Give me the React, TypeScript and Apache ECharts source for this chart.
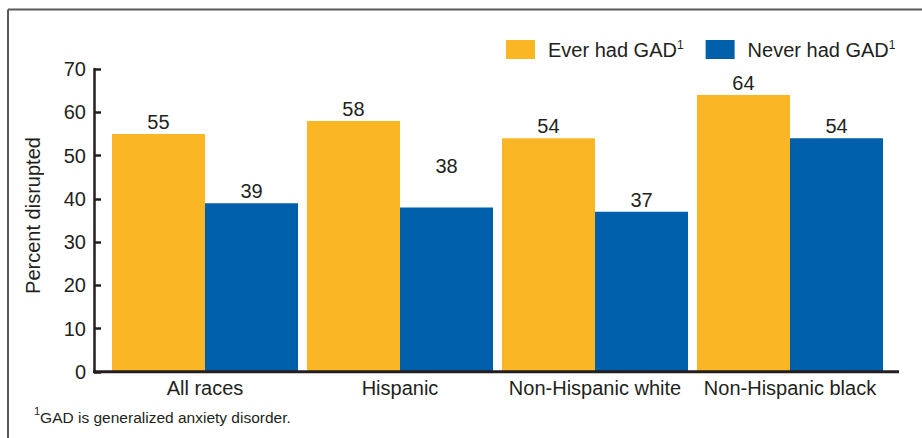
import React, { useEffect, useRef } from "react";
import * as echarts from "echarts";

const categories = ["All races", "Hispanic", "Non-Hispanic white", "Non-Hispanic black"];
const everHadGAD = [55, 58, 54, 64];
const neverHadGAD = [39, 38, 37, 54];
const neverLabelLift = [0, 30, 0, 0];
const yTicks = { min: 0, max: 70, interval: 10 };
const seriesNames = ["Ever had GAD", "Never had GAD"];
const footnote = "GAD is generalized anxiety disorder.";

const TEXT = "#231f20";
const YELLOW = "#fbb626";
const BLUE = "#005fab";
const FONT = "'Liberation Sans', Arial, Helvetica, sans-serif";

export default function App() {
  const ref = useRef<HTMLDivElement>(null);
  useEffect(() => {
    if (!ref.current) return;
    const chart = echarts.init(ref.current, null, { renderer: "svg" });
    const labelStyle = {
      show: true,
      position: "top",
      distance: 2,
      fontSize: 20,
      color: TEXT,
      fontFamily: FONT,
    };
    chart.setOption({
      animation: false,
      backgroundColor: "#ffffff",
      textStyle: { fontFamily: FONT },
      grid: { left: 107.5, right: 34.5, top: 69, bottom: 66 },
      legend: {
        left: 501,
        top: 33.5,
        itemWidth: 29,
        itemHeight: 19,
        itemGap: 22,
        icon: "rect",
        data: seriesNames,
        formatter: (name: string) => `{t|${name}}{s|1}`,
        textStyle: {
          fontFamily: FONT,
          color: TEXT,
          rich: {
            t: { fontSize: 20, lineHeight: 22, color: TEXT, fontFamily: FONT, padding: [0, 0, 0, 8] },
            s: { fontSize: 12, lineHeight: 12, color: TEXT, fontFamily: FONT, verticalAlign: "top" },
          },
        },
      },
      xAxis: {
        type: "category",
        data: categories,
        axisLine: { show: false },
        axisTick: { show: false },
        axisLabel: { interval: 0, fontSize: 20, color: TEXT, fontFamily: FONT, margin: 6, lineHeight: 20 },
      },
      yAxis: {
        type: "value",
        min: yTicks.min,
        max: yTicks.max,
        interval: yTicks.interval,
        offset: 13.5,
        name: "Percent disrupted",
        nameLocation: "middle",
        nameGap: 51,
        nameTextStyle: { fontSize: 20, color: TEXT, fontFamily: FONT, padding: [0, 0, 0, 10] },
        splitLine: { show: false },
        axisLine: { show: true, lineStyle: { color: TEXT, width: 2.5 } },
        axisTick: { show: true, inside: true, length: 7, lineStyle: { color: TEXT, width: 2.5 } },
        axisLabel: { fontSize: 20, color: TEXT, fontFamily: FONT, margin: 8 },
      },
      series: [
        {
          name: seriesNames[0],
          type: "bar",
          data: everHadGAD,
          itemStyle: { color: YELLOW },
          barGap: "0%",
          barCategoryGap: "4.6%",
          label: labelStyle,
        },
        {
          name: seriesNames[1],
          type: "bar",
          data: neverHadGAD.map((v, i) =>
            neverLabelLift[i] ? { value: v, label: { offset: [0, -neverLabelLift[i]] } } : v
          ),
          itemStyle: { color: BLUE },
          barGap: "0%",
          barCategoryGap: "4.6%",
          label: labelStyle,
        },
      ],
      graphic: [
        {
          type: "line",
          shape: { x1: 8, y1: 9.5, x2: 922, y2: 9.5 },
          style: { stroke: "#58595b", lineWidth: 2 },
        },
        {
          type: "line",
          shape: { x1: 8, y1: 9.5, x2: 8, y2: 438 },
          style: { stroke: "#58595b", lineWidth: 2 },
        },
        {
          type: "line",
          shape: { x1: 93, y1: 371.7, x2: 899, y2: 371.7 },
          style: { stroke: TEXT, lineWidth: 3 },
          z: 10,
        },
        {
          type: "text",
          left: 34,
          top: 405,
          style: {
            text: `{s|1}{t|${footnote}}`,
            fill: TEXT,
            rich: {
              s: { fontSize: 11, lineHeight: 11, fill: TEXT, fontFamily: FONT, verticalAlign: "top" },
              t: { fontSize: 15.5, lineHeight: 24, fill: TEXT, fontFamily: FONT },
            },
          },
        },
      ],
    });
    return () => chart.dispose();
  }, []);
  return (
    <div
      ref={ref}
      style={{ position: "fixed", left: 0, top: 0, width: 922, height: 438 }}
    />
  );
}
